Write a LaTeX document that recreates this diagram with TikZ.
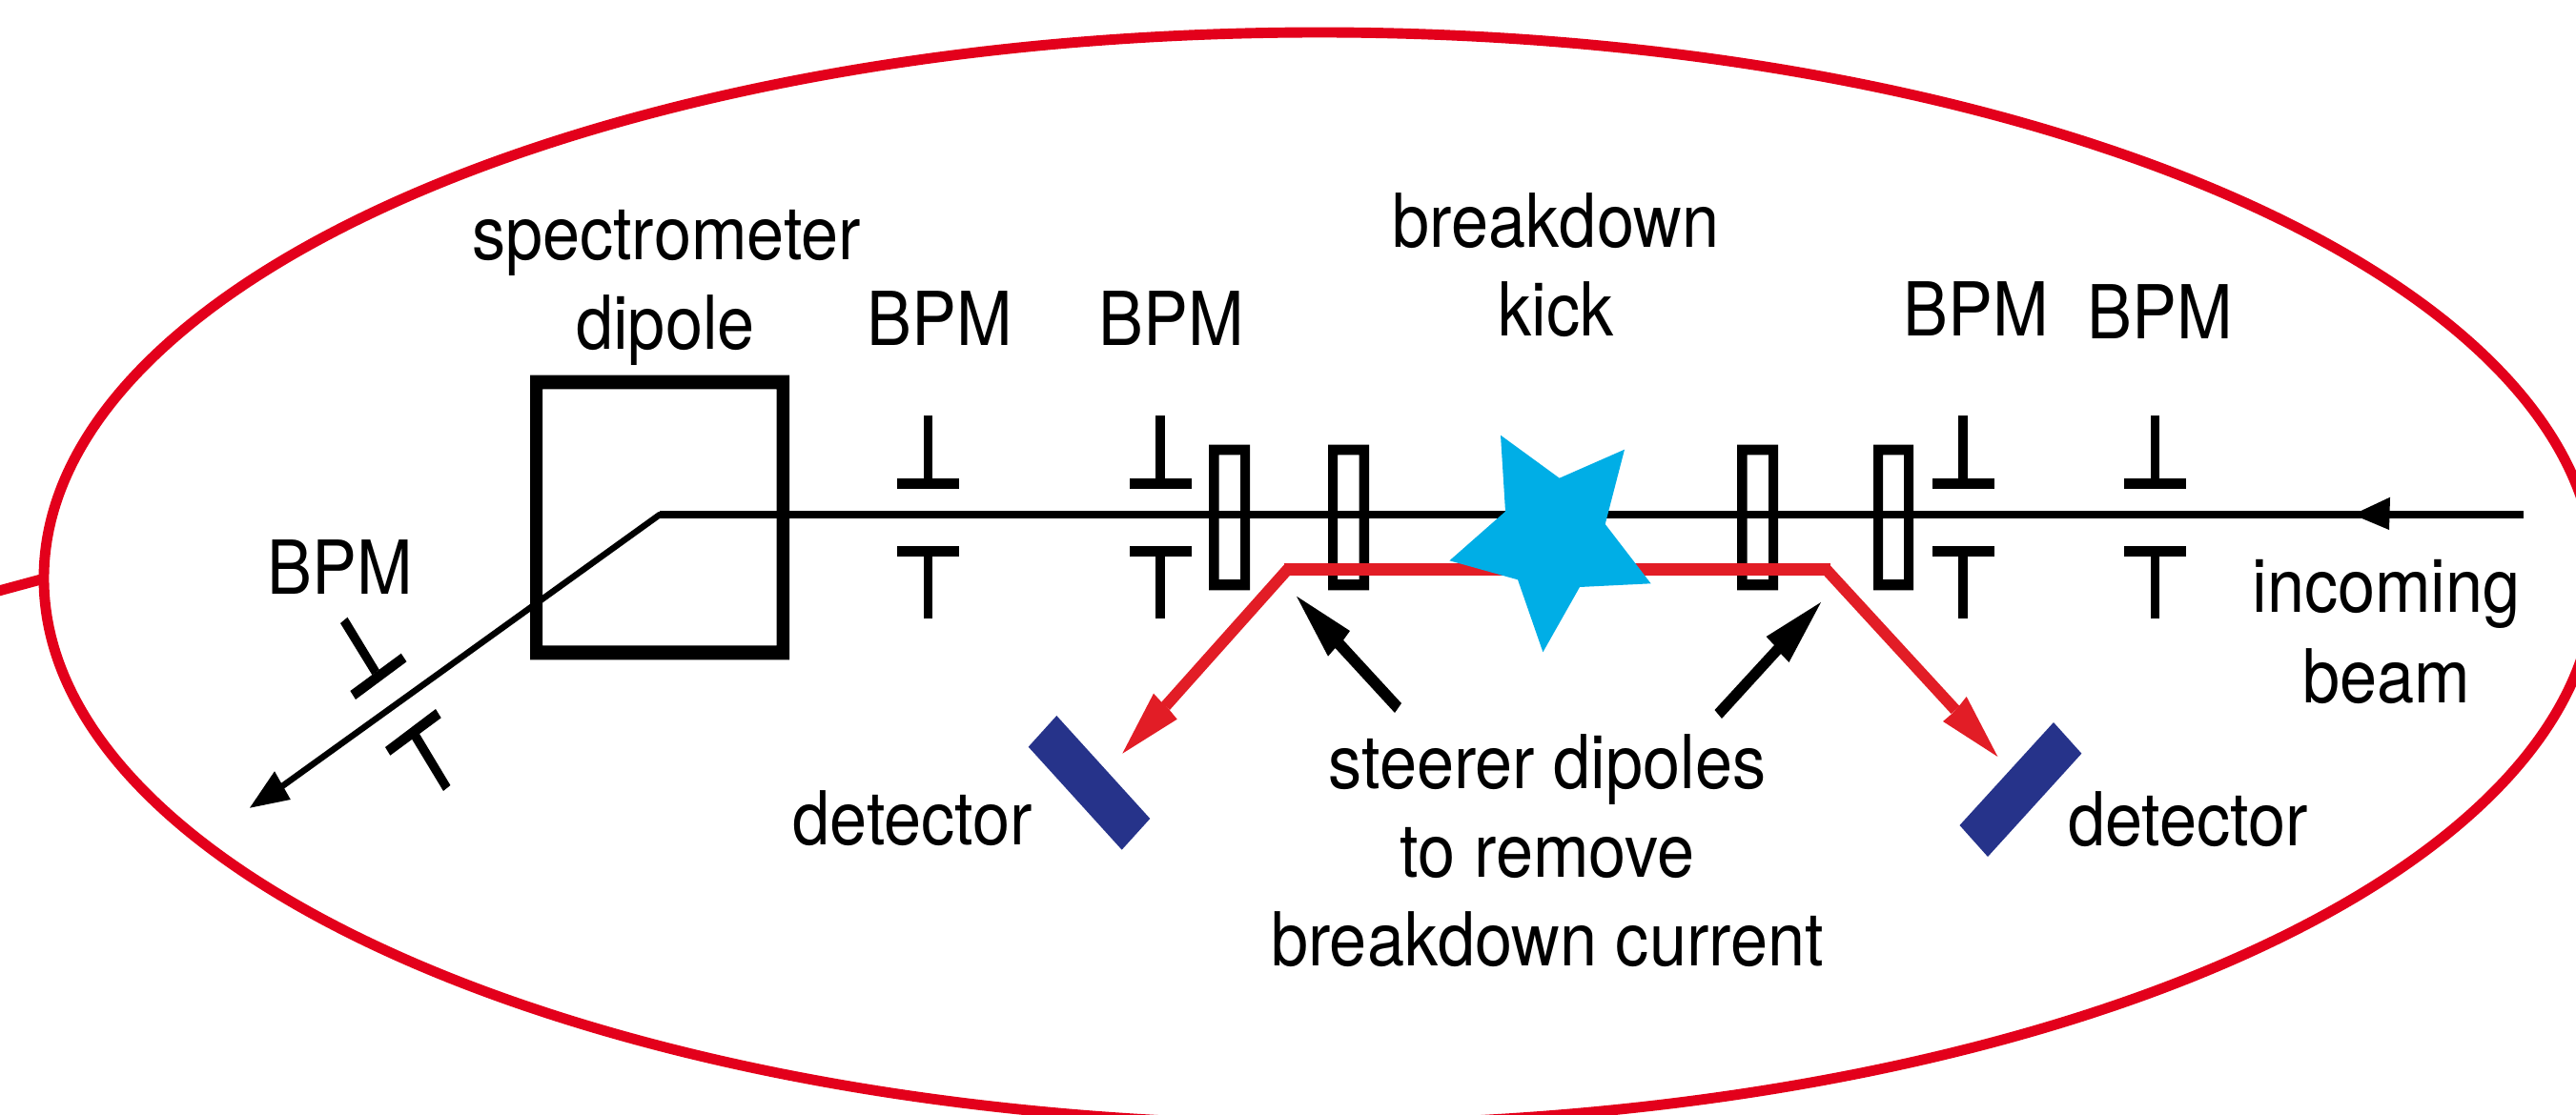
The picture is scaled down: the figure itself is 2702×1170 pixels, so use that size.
\documentclass[tikz,border=0pt]{standalone}
\usepackage{fontspec}
\setmainfont[FakeStretch=0.9]{TeX Gyre Heros}
\definecolor{ringred}{HTML}{E3001B}
\definecolor{kickred}{HTML}{E21D26}
\definecolor{detblue}{HTML}{26338A}
\definecolor{starblue}{HTML}{00AEE6}
\tikzset{
  lbl/.style={anchor=base,inner sep=0pt,font=\fontsize{22.2pt}{26pt}\selectfont},
  ring/.style={draw=ringred,line width=3.1pt},
  beamline/.style={draw=black,line width=2pt},
  kickline/.style={draw=kickred,line width=3.6pt},
  kickdiag/.style={draw=kickred,line width=3.4pt},
  solid shape/.style={fill=black,draw=none},
  detector/.style={fill=detblue,draw=none},
  frame/.style={fill=black,draw=none,even odd rule}
}
\begin{document}
\begin{tikzpicture}[x=0.01cm,y=-0.01cm]
\clip (0,0) rectangle (2702,1170);
\fill[white] (0,0) rectangle (2702,1170);
% vacuum ring
\draw[ring] (1384,607) ellipse [x radius=1338,y radius=573];
\coordinate (stubA) at (-5,621);
\coordinate (stubB) at (43,608);
\draw[ring] (stubA) -- (stubB);
% beam line
\coordinate (beamin) at (2647,540);
\coordinate (bend) at (692,540);
\coordinate (beamout) at (296,825);
\draw[beamline] (beamin) -- (bend);
\draw[draw=black,line width=1.85pt,line cap=round] (bend) -- (beamout);
\fill[solid shape] (2468,540) -- (2507,521.7) -- (2506,556) -- cycle;
\fill[solid shape] (262,847.7) -- (288,809.3) -- (304.8,839) -- cycle;
% spectrometer dipole
\fill[frame] (556,393.7) rectangle (828,692.3) (569,408.3) rectangle (814.6,677.3);
% steerer frames
\foreach \xa/\xb/\xc/\xd in {1268/1311/1278.6/1301,1393/1436/1403/1425.5,1822/1865/1832.5/1855,1965/2007/1975/1997}{
  \fill[frame] (\xa,466.7) rectangle (\xb,619.3) (\xc,477.3) rectangle (\xd,608);
}
% BPM pairs on straight line
\foreach \x in {973.5,1217,2059,2260.6}{
  \fill[solid shape] (\x-4.7,436) rectangle (\x+4.7,503);
  \fill[solid shape] (\x-32.5,502) rectangle (\x+32.5,512.7);
  \fill[solid shape] (\x-32.5,573) rectangle (\x+32.5,584);
  \fill[solid shape] (\x-4.7,583) rectangle (\x+4.7,649);
}
% BPM pair on bent line
\fill[solid shape] (364.5,647.7) -- (357,654) -- (390.4,708.3) -- (397.8,702.7) -- cycle;
\fill[solid shape] (420.8,685.7) -- (426.5,694.3) -- (373,734) -- (367.4,725) -- cycle;
\fill[solid shape] (457,744) -- (462.7,753.3) -- (409.3,792.7) -- (404,784) -- cycle;
\fill[solid shape] (439,768.3) -- (431.7,775) -- (465,830) -- (472.4,824) -- cycle;
% breakdown current
\coordinate (kickL) at (1347,597.3);
\coordinate (kickR) at (1920,597.3);
\coordinate (cornerL) at (1351,597);
\coordinate (cornerR) at (1915,597);
\coordinate (endL) at (1222.5,741);
\coordinate (endR) at (2051,745);
\draw[kickline] (kickL) -- (kickR);
\draw[kickdiag] (cornerL) -- (endL);
\draw[kickdiag] (cornerR) -- (endR);
\fill[kickred] (1177.3,790.7) -- (1210,727.7) -- (1218.3,736.7) -- (1226.7,745) -- (1234.7,754.7) -- cycle;
\fill[kickred] (2095.4,794) -- (2062.7,731) -- (2055,740.7) -- (2047,749.3) -- (2038,757) -- cycle;
% detectors
\fill[detector] (1108.3,751) -- (1206.3,859) -- (1176.7,891.7) -- (1078.7,783.7) -- cycle;
\fill[detector] (2154,758) -- (2183.4,790.7) -- (2085,899) -- (2055.5,866) -- cycle;
% steerer arrows
\fill[solid shape] (1360,625.7) -- (1416,662) -- (1409,671.7) -- (1470,738) -- (1463,748) -- (1400.5,680) -- (1393,688.7) -- cycle;
\fill[solid shape] (1910,632) -- (1852.6,668) -- (1861,677) -- (1798.5,745) -- (1806,754) -- (1868,686) -- (1876.5,695) -- cycle;
% star
\fill[starblue] (1574,456.7) -- (1635.7,501.7) -- (1704,471.7) -- (1683.7,550) -- (1731.6,612.3) -- (1657,616) -- (1618.4,684.3) -- (1592,608.3) -- (1520.4,588.3) -- (1579,536.7) -- cycle;
% labels
\node[lbl] (spec) at (699,272.3) {spectrometer};
\node[lbl] (dip) at (698,366.7) {dipole};
\node[lbl] (bpmA) at (986,362.7) {BPM};
\node[lbl] (bpmB) at (1228.7,362.7) {BPM};
\node[lbl] (bpmC) at (2073,353) {BPM};
\node[lbl] (bpmD) at (2266,356) {BPM};
\node[lbl] (bpmE) at (357,623) {BPM};
\node[lbl] (brk) at (1632,260) {breakdown};
\node[lbl] (kick) at (1632,353) {kick};
\node[lbl] (st1) at (1623,827) {steerer dipoles};
\node[lbl] (st2) at (1623,920) {to remove};
\node[lbl] (st3) at (1623,1013) {breakdown current};
\node[lbl] (detL) at (957.5,886) {detector};
\node[lbl] (detR) at (2295,887) {detector};
\node[lbl] (inc) at (2503,642.7) {incoming};
\node[lbl] (bm) at (2503,737) {beam};
\end{tikzpicture}
\end{document}
